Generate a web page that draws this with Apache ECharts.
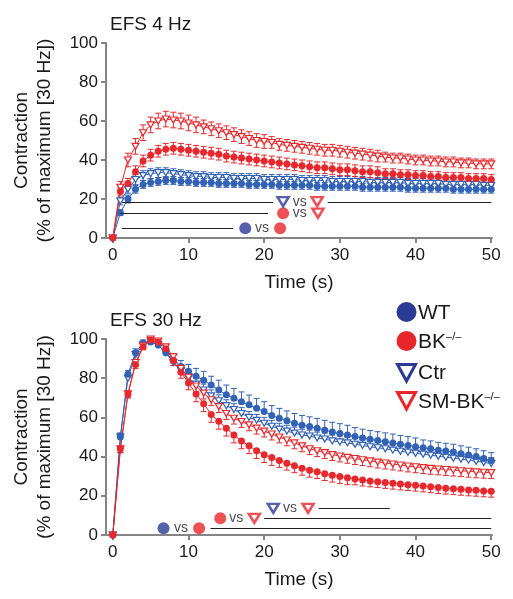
<!DOCTYPE html>
<html><head><meta charset="utf-8">
<script src="https://cdn.jsdelivr.net/npm/echarts@6/dist/echarts.min.js"></script>
<style>html,body{margin:0;padding:0;background:#fff}#c{width:513px;height:599px}</style>
</head><body><div id="c"></div>
<script>
// ---------------- DATA ----------------
const time = [0,1,2,3,4,5,6,7,8,9,10,11,12,13,14,15,16,17,18,19,20,21,22,23,24,25,26,27,28,29,30,31,32,33,34,35,36,37,38,39,40,41,42,43,44,45,46,47,48,49,50];
const xTicks = [0,10,20,30,40,50];
const yTicks = [0,20,40,60,80,100];

// EFS 4 Hz
const wt4  = [0,13,20,25,27.5,28.5,29,29.5,29.5,29,29,28.5,28.5,28.5,28,28,28,28,27.5,27.5,27.5,27.5,27,27,27,27,27,26.5,26.5,26.5,26.5,26.5,26.5,26,26,26,26,26,26,25.5,25.5,25.5,25.5,25.5,25.5,25,25,25,25,25,25];
const bk4  = [0,24,28,34,39.5,42.5,44.5,45.5,46,45.5,45,44.5,44,43.5,43,42,41.5,41,40.5,40,39.5,39,38.5,38,37.5,37,36.5,36,36,35.5,35,35,34.5,34,34,33.5,33,33,32.5,32.5,32,32,31.5,31.5,31,31,31,30.5,30.5,30.5,30];
const ctr4 = [0,19,25,30,32,33,33.5,33.5,33,32.5,32,31.5,31.5,31,31,31,30.5,30.5,30.5,30.5,30,30,30,30,30,29.5,29.5,29.5,29.5,29,29,29,29,29,28.5,28.5,28.5,28.5,28.5,28,28,28,28,28,27.5,27.5,27.5,27.5,27.5,27,27];
const sm4  = [0,26,40,47,54,58,60,61,60.5,60,59,58,57,56,55,54,53,52,51,50,49.5,49,48,47.5,47,46.5,46,45.5,45,45,44.5,44,43.5,43,42.5,42,41.5,41,41,40.5,40,40,39.5,39.5,39,39,38.5,38.5,38,38,38];
const wt4Sem  = [0,1.5,2,2,2,2,2,2,2,2,2,2,2,2,2,2,2,2,2,2,2,2,2,2,2,2,2,2,2,2,2,2,2,2,2,2,2,2,2,2,2,2,2,2,2,2,2,2,2,2,2];
const bk4Sem  = [0,2,2.5,3,3,3,3,3,3,3,3,3,3,3,3,3,3,3,3,3,3,3,3,3,3,3,3,3,3,3,3,3,3,3,3,3,2.5,2.5,2.5,2.5,2.5,2.5,2.5,2.5,2.5,2.5,2.5,2.5,2.5,2.5,2.5];
const ctr4Sem = [0,2,2,2.5,2.5,2.5,2.5,2.5,2.5,2.5,2.5,2.5,2.5,2.5,2.5,2.5,2.5,2.5,2.5,2.5,2.5,2.5,2.5,2.5,2.5,2.5,2.5,2.5,2.5,2.5,2.5,2.5,2.5,2.5,2.5,2.5,2.5,2.5,2.5,2.5,2.5,2.5,2.5,2.5,2.5,2.5,2.5,2.5,2.5,2.5,2.5];
const sm4Sem  = [0,3,3.5,4,4,4,4,4,4,4,4,4,3.5,3.5,3.5,3.5,3.5,3.5,3.5,3.5,3.5,3,3,3,3,3,3,3,3,3,3,3,3,3,3,3,2.5,2.5,2.5,2.5,2.5,2.5,2.5,2.5,2.5,2.5,2.5,2.5,2.5,2.5,2.5];

// EFS 30 Hz
const wt30  = [0,50,82,93,98,98.5,97,93,89,86,83.5,81,79,76.5,74,71.5,69.8,68,66.4,64.7,63,61,59.6,58.3,57,56,55.3,54.5,53.5,52.5,51.8,51,50.3,49.5,48.8,48.2,47.6,47,46.3,45.7,45,44.5,44,43.3,42.8,42.3,41.5,40.8,40,39,38];
const bk30  = [0,44,72,87,96,99.5,98.5,95,89,83,77.6,72,67,61.5,58,54.5,51,48,45.5,43,41,39.5,38,36.6,35.3,34,33,32.3,31.3,30.5,29.8,29.2,28.6,28,27.6,27.2,26.8,26.4,26,25.7,25.4,25,24.6,24.2,23.9,23.6,23.3,23,22.8,22.5,22.3];
const ctr30 = [0,50,80,92,97,99,97,93,88,84,80,77,74,71,68.5,66,64,62,60,58.5,57,55.5,54,53,52,51,50.5,49.5,49,48,47.5,47,46.3,45.7,45,44.5,44,43.3,42.7,42.2,41.7,41.2,40.7,40.2,39.7,39.2,38.7,38.2,37.6,37,36.5];
const sm30  = [0,44,72,88,96.5,100,99,96,91,85,80.5,76,72.4,69,65.5,62,59.6,57.9,56.2,54.5,53,51.5,50,48.5,47,45.5,44,43,42,41,40.3,39.6,39,38.4,37.8,37.2,36.7,36.2,35.7,35.2,34.8,34.4,34,33.7,33.4,33.1,32.8,32.5,32.2,32,31.8];
const wt30Sem  = [0,2,2,2,1.5,1.5,1.5,2,2.5,3,3.5,4,4.5,4.5,5,5,5,5,5,5,5,5,5,5,5,5,5,5,5,5,5,5,4.5,4.5,4.5,4.5,4.5,4.5,4.5,4.5,4.5,4,4,4,4,4,4,4,4,4,4];
const bk30Sem  = [0,2,2,2,1.5,1.5,1.5,2,2.5,3,3.5,4,4,4,4,4,4,4,4,4,4,4,3.5,3.5,3.5,3.5,3.5,3.5,3.5,3.5,3.5,3.5,3,3,3,3,3,3,3,3,3,3,3,3,3,3,3,3,3,3,3];
const ctr30Sem = [0,2,2,2,1.5,1.5,1.5,2,2,2.5,2.5,3,3,3,3,3,3,3,3,3,3,3,3,3,3,3,3,3,3,3,3,3,3,3,3,3,3,3,3,3,3,3,3,3,3,3,3,3,3,3,3];
const sm30Sem  = [0,2,2,2,1.5,1.5,1.5,2,2,2.5,2.5,3,3,3,3,3,3,3,3,3,3,3,3,3,3,3,3,3,3,3,3,3,3,3,3,3,3,3,3,3,3,3,3,3,3,3,3,3,3,3,3];

// significance bars: [grid, xStart, xEnd, y]
const sigLines = [
  [0, 1.2, 21.2, 18.6], [0, 28.4, 50, 18.6],
  [0, 1.0, 20.5, 12.7],
  [0, 1.2, 15.9, 5.0],
  [1, 27.2, 36.6, 13.6],
  [1, 20.0, 50, 8.5],
  [1, 12.9, 50, 3.4]
];
// significance markers: [grid, x, y, kind]
const sigMarks = [
  [0, 22.5, 18.6, 'Ctr'], [0, 24.7, 18.6, 'vs'], [0, 27.0, 18.6, 'SM'],
  [0, 22.5, 12.7, 'BK'],  [0, 24.7, 12.7, 'vs'], [0, 27.1, 12.7, 'SM'],
  [0, 17.5, 5.0, 'WT'],   [0, 19.7, 5.0, 'vs'],  [0, 22.1, 5.0, 'BK'],
  [1, 21.2, 13.6, 'Ctr'], [1, 23.4, 13.6, 'vs'], [1, 25.8, 13.6, 'SM'],
  [1, 14.2, 8.5, 'BK'],   [1, 16.3, 8.5, 'vs'],  [1, 18.7, 8.5, 'SM'],
  [1, 6.7, 3.4, 'WT'],    [1, 9.0, 3.4, 'vs'],   [1, 11.4, 3.4, 'BK']
];

// ---------------- STYLE ----------------
const FONT = 'Liberation Sans, Arial, Helvetica, sans-serif';
const BLUE = '#3262b6', RED = '#e8282c';
const LBLUE = '#2b3a94', LRED = '#e8262a';
const TXT = '#1a1a1a', AXC = '#858585';
const TRI = 'path://M0,0L10,0L5,9Z';

const chart = echarts.init(document.getElementById('c'), null, {renderer: 'canvas'});

const grids = [
  {left: 106, right: 21, top: 43, height: 195},
  {left: 106, right: 21, top: 339, height: 196}
];

function xAx(i) {
  return {
    gridIndex: i, type: 'value', min: -0.9, max: 50.1,
    name: 'Time (s)', nameLocation: 'middle', nameGap: 35,
    nameTextStyle: {fontSize: 19, color: TXT, fontFamily: FONT},
    axisLine: {show: true, lineStyle: {color: AXC, width: 2}},
    axisTick: {show: true, length: 5, lineStyle: {color: AXC, width: 2}, customValues: xTicks},
    axisLabel: {fontSize: 17, color: TXT, fontFamily: FONT, margin: 9, customValues: xTicks},
    splitLine: {show: false}
  };
}
function yAx(i) {
  return {
    gridIndex: i, type: 'value', min: 0, max: 100, interval: 20,
    name: 'Contraction\n(% of maximum [30 Hz])', nameLocation: 'middle', nameGap: 50, nameRotate: 90,
    nameTextStyle: {fontSize: 19, lineHeight: 23, color: TXT, fontFamily: FONT},
    axisLine: {show: true, onZero: false, lineStyle: {color: AXC, width: 2}},
    axisTick: {show: true, length: 5, lineStyle: {color: AXC, width: 2}},
    axisLabel: {fontSize: 17, color: TXT, fontFamily: FONT, margin: 8},
    splitLine: {show: false}
  };
}

const series = [];
function addSeries(g, name, vals, sem, dir, kind, color) {
  const open = kind === 'tri';
  series.push({
    type: 'custom', xAxisIndex: g, yAxisIndex: g, silent: true, z: 2,
    data: time.map((t, i) => [t, vals[i], dir === 'up' ? vals[i] : vals[i] - sem[i], dir === 'down' ? vals[i] : vals[i] + sem[i]]),
    renderItem: function (params, api) {
      const v = api.value(1), lo = api.value(2), hi = api.value(3);
      if (hi - lo <= 0) return null;
      const p1 = api.coord([api.value(0), lo]);
      const p2 = api.coord([api.value(0), hi]);
      const w = 3;
      const ch = [{type: 'line', shape: {x1: p1[0], y1: p1[1], x2: p2[0], y2: p2[1]}, style: {stroke: color, lineWidth: 1}}];
      if (lo < v) ch.push({type: 'line', shape: {x1: p1[0] - w, y1: p1[1], x2: p1[0] + w, y2: p1[1]}, style: {stroke: color, lineWidth: 1}});
      if (hi > v) ch.push({type: 'line', shape: {x1: p2[0] - w, y1: p2[1], x2: p2[0] + w, y2: p2[1]}, style: {stroke: color, lineWidth: 1}});
      return {type: 'group', children: ch};
    }
  });
  series.push({
    type: 'line', name: name, xAxisIndex: g, yAxisIndex: g, z: 3,
    data: time.map((t, i) => [t, vals[i]]),
    symbol: open ? TRI : 'circle', symbolSize: open ? [7, 6] : 7,
    showAllSymbol: true,
    itemStyle: open ? {color: '#fff', borderColor: color, borderWidth: 1.2} : {color: color, borderWidth: 0},
    lineStyle: {color: color, width: 1}
  });
}
addSeries(0, 'Ctr', ctr4, ctr4Sem, 'both', 'tri', BLUE);
addSeries(0, 'WT', wt4, wt4Sem, 'both', 'circle', BLUE);
addSeries(0, 'SM-BK', sm4, sm4Sem, 'both', 'tri', RED);
addSeries(0, 'BK', bk4, bk4Sem, 'both', 'circle', RED);
addSeries(1, 'Ctr', ctr30, ctr30Sem, 'up', 'tri', BLUE);
addSeries(1, 'WT', wt30, wt30Sem, 'up', 'circle', BLUE);
addSeries(1, 'SM-BK', sm30, sm30Sem, 'down', 'tri', RED);
addSeries(1, 'BK', bk30, bk30Sem, 'down', 'circle', RED);

// significance lines
[0, 1].forEach(g => {
  series.push({
    type: 'custom', xAxisIndex: g, yAxisIndex: g, silent: true, z: 4,
    data: sigLines.filter(d => d[0] === g).map(d => [d[1], d[2], d[3]]),
    renderItem: function (params, api) {
      const a = api.coord([api.value(0), api.value(2)]);
      const b = api.coord([api.value(1), api.value(2)]);
      return {type: 'line', shape: {x1: a[0], y1: Math.round(a[1]) + 0.5, x2: b[0], y2: Math.round(b[1]) + 0.5}, style: {stroke: '#222', lineWidth: 1.2}};
    }
  });
  const kinds = {
    WT:  {symbol: 'circle', symbolSize: 12, itemStyle: {color: LBLUE}},
    BK:  {symbol: 'circle', symbolSize: 12, itemStyle: {color: LRED}},
    Ctr: {symbol: TRI, symbolSize: [11, 9], itemStyle: {color: '#fff', borderColor: LBLUE, borderWidth: 2.5}},
    SM:  {symbol: TRI, symbolSize: [11, 9], itemStyle: {color: '#fff', borderColor: LRED, borderWidth: 2.5}}
  };
  Object.keys(kinds).forEach(k => {
    series.push(Object.assign({
      type: 'scatter', xAxisIndex: g, yAxisIndex: g, silent: true, z: 5,
      data: sigMarks.filter(d => d[0] === g && d[3] === k).map(d => [d[1], d[2]])
    }, kinds[k]));
  });
  series.push({
    type: 'scatter', xAxisIndex: g, yAxisIndex: g, silent: true, z: 5, symbolSize: 0,
    data: sigMarks.filter(d => d[0] === g && d[3] === 'vs').map(d => [d[1], d[2]]),
    label: {show: true, position: 'inside', formatter: 'vs', fontSize: 14, color: TXT, fontFamily: FONT}
  });
});

// legend (drawn as graphics)
const legText = (y, txt) => ({
  type: 'text', x: 418, y: y,
  style: {
    text: txt, fill: TXT, verticalAlign: 'middle', font: '21px ' + FONT,
    rich: {b: {fontSize: 21, fontFamily: FONT, fill: TXT}, s: {fontSize: 11, fontFamily: FONT, fill: TXT, verticalAlign: 'top'}}
  }
});
const graphic = [
  {type: 'circle', shape: {cx: 406.5, cy: 312, r: 10}, style: {fill: LBLUE}},
  {type: 'circle', shape: {cx: 406.5, cy: 341, r: 10}, style: {fill: LRED}},
  {type: 'polygon', shape: {points: [[397.5, 364.5], [415.5, 364.5], [406.5, 381]]}, style: {fill: '#fff', stroke: LBLUE, lineWidth: 3}},
  {type: 'polygon', shape: {points: [[397.5, 392.5], [415.5, 392.5], [406.5, 409]]}, style: {fill: '#fff', stroke: LRED, lineWidth: 3}},
  legText(313, '{b|WT}'),
  legText(342, '{b|BK}{s|–/–}'),
  legText(373, '{b|Ctr}'),
  legText(402, '{b|SM-BK}{s|–/–}')
];

chart.setOption({
  animation: false,
  backgroundColor: '#fff',
  textStyle: {fontFamily: FONT},
  title: [
    {text: 'EFS 4 Hz', left: 105, top: 10, textStyle: {fontSize: 19, fontWeight: 'normal', color: TXT, fontFamily: FONT}},
    {text: 'EFS 30 Hz', left: 105, top: 306, textStyle: {fontSize: 19, fontWeight: 'normal', color: TXT, fontFamily: FONT}}
  ],
  grid: grids,
  xAxis: [xAx(0), xAx(1)],
  yAxis: [yAx(0), yAx(1)],
  series: series,
  graphic: graphic
});
</script>
</body></html>
